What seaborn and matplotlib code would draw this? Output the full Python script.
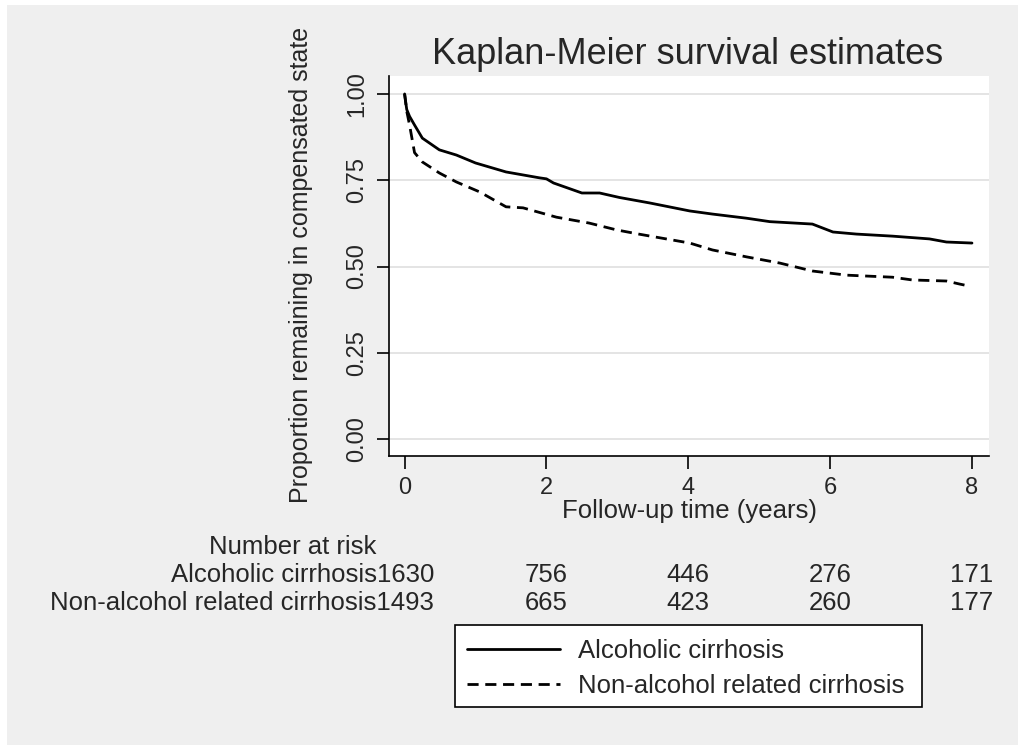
import pandas as pd
import matplotlib
matplotlib.use("Agg")
import matplotlib.pyplot as plt
import seaborn as sns
from matplotlib.patches import Rectangle

# Kaplan-Meier curves (years, proportion)
alc_time = [0, 0.03, 0.07, 0.14, 0.25, 0.49, 0.73, 1.0, 1.43, 1.9, 2.0, 2.1, 2.5,
            2.75, 3.03, 3.46, 4.02, 4.34, 4.82, 5.15, 5.75, 6.04, 6.37, 6.88, 7.4, 7.64, 8.0]
alc_surv = [1.0, 0.955, 0.935, 0.91, 0.872, 0.838, 0.823, 0.80, 0.774, 0.757, 0.754, 0.742, 0.713,
            0.713, 0.70, 0.684, 0.661, 0.652, 0.64, 0.63, 0.623, 0.60, 0.594, 0.588, 0.58, 0.571, 0.568]
non_time = [0, 0.03, 0.07, 0.14, 0.25, 0.49, 0.73, 1.06, 1.43, 1.67, 2.14, 2.6, 2.99,
            3.3, 4.02, 4.34, 4.82, 5.29, 5.75, 6.23, 6.88, 7.16, 7.64, 7.83, 7.9]
non_surv = [1.0, 0.95, 0.91, 0.83, 0.803, 0.771, 0.745, 0.716, 0.673, 0.67, 0.643, 0.626, 0.606,
            0.594, 0.568, 0.548, 0.528, 0.51, 0.487, 0.475, 0.469, 0.461, 0.458, 0.449, 0.446]

groups = ["Alcoholic cirrhosis", "Non-alcohol related cirrhosis"]
risk_times = [0, 2, 4, 6, 8]
risk_alc = [1630, 756, 446, 276, 171]
risk_non = [1493, 665, 423, 260, 177]
x_ticks = [0, 2, 4, 6, 8]
y_ticks = [0.0, 0.25, 0.5, 0.75, 1.0]

df = pd.concat([
    pd.DataFrame({"time": alc_time, "surv": alc_surv, "group": groups[0]}),
    pd.DataFrame({"time": non_time, "surv": non_surv, "group": groups[1]}),
])

sns.set_style("white")
plt.rcParams["font.family"] = ["Liberation Sans", "DejaVu Sans"]

W, H = 1025, 749
fig = plt.figure(figsize=(W / 100, H / 100), dpi=100, facecolor="white")
# grey graph region like Stata
fig.patches.append(Rectangle((7 / W, 1 - 745 / H), 1011 / W, 740 / H,
                             transform=fig.transFigure, facecolor="#efefef",
                             edgecolor="none", zorder=-10))

ax = fig.add_axes([389 / W, 1 - 456 / H, (989 - 389) / W, (456 - 76) / H])
ax.set_facecolor("white")

sns.lineplot(data=df, x="time", y="surv", style="group", color="black",
             dashes={groups[0]: "", groups[1]: (4, 2.4)}, linewidth=2.0,
             estimator=None, sort=False, ax=ax, legend=True)

ax.set_xlim(-0.22, 8.24)
ax.set_ylim(-0.049, 1.052)
ax.set_xticks(x_ticks)
ax.set_yticks(y_ticks)
ax.set_yticklabels([f"{v:.2f}" for v in y_ticks], rotation=90, va="center")
ax.tick_params(axis="both", direction="out", length=9, width=1.2, color="black",
               labelsize=17, pad=6, left=True, bottom=True)
ax.yaxis.grid(True, color="#e4e4e4", linewidth=1.4)
ax.xaxis.grid(False)
ax.set_axisbelow(True)
for side in ["top", "right"]:
    ax.spines[side].set_visible(False)
for side in ["left", "bottom"]:
    ax.spines[side].set_color("black")
    ax.spines[side].set_linewidth(1.2)

ax.set_xlabel("Follow-up time (years)", fontsize=18.5, labelpad=0)
ax.set_ylabel("")
fig.text(301 / W, 1 - 265 / H, "Proportion remaining in compensated state",
         rotation=90, ha="center", va="center", fontsize=18)
fig.text(688 / W, 1 - 55 / H, "Kaplan-Meier survival estimates",
         ha="center", va="center", fontsize=26)

# number at risk table
fig.text(293 / W, 1 - 547 / H, "Number at risk", ha="center", va="center", fontsize=18.5)
row_y = [575, 603]
for yy, name, counts in zip(row_y, groups, [risk_alc, risk_non]):
    fig.text(434 / W, 1 - yy / H, f"{name}{counts[0]}", ha="right", va="center", fontsize=18.5)
    for t, n in zip(risk_times[1:], counts[1:]):
        xf = ax.transData.transform((t, 0))[0] / fig.bbox.width
        fig.text(xf, 1 - yy / H, str(n), ha="center", va="center", fontsize=18.5)

# legend box drawn as a plain frame, entries placed inside it
fig.patches.append(Rectangle((455 / W, 1 - 707 / H), (922 - 455) / W, (707 - 625) / H,
                             transform=fig.transFigure, facecolor="white",
                             edgecolor="black", linewidth=1.2, zorder=1))
handles, labels = ax.get_legend_handles_labels()
ax.legend_.remove()
leg = fig.legend(handles, labels, loc="upper left",
                 bbox_to_anchor=(453 / W, 1 - 625 / H), borderaxespad=0,
                 fontsize=18.5, frameon=False, handlelength=3.6,
                 handletextpad=0.72, labelspacing=0.44, borderpad=0.55)
leg.set_zorder(2)

fig.savefig("out.png", dpi=100, facecolor="white")
